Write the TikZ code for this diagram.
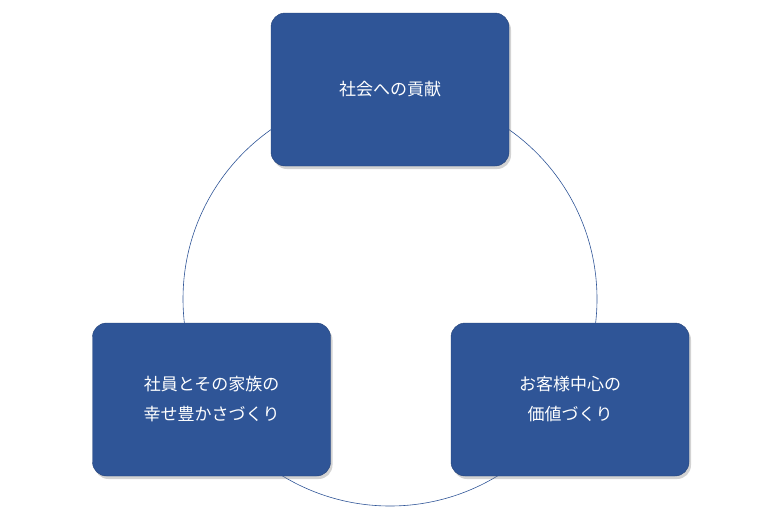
\documentclass[tikz,border=0pt]{standalone}
\usepackage{fontspec}
\newfontfamily\cjk{Noto Sans CJK JP}
\usetikzlibrary{positioning, shadows}
\definecolor{boxblue}{HTML}{2F5597}
\begin{document}
\begin{tikzpicture}[x=1pt, y=-1pt]
    % Styles
    \tikzset{
        goal/.style={rectangle, draw=boxblue!80!black, fill=boxblue, text=white, rounded corners=14pt, minimum width=238pt, minimum height=153pt, align=center, font=\cjk\fontsize{17}{30}\selectfont, drop shadow={opacity=0.35, shadow xshift=2pt, shadow yshift=-3pt}},
        ring/.style={draw=boxblue, line width=0.6pt}
    }
    \useasboundingbox (0,0) rectangle (776,517);

    % --- Circle ---
    \draw[ring] (390,299) circle (207);

    % --- Nodes ---
    \node[goal] (society) at (390,89.5) {社会への貢献};
    \node[goal] (staff) at (211.5,399.5) {社員とその家族の\\幸せ豊かさづくり};
    \node[goal] (customer) at (570,399.5) {お客様中心の\\価値づくり};
\end{tikzpicture}
\end{document}
